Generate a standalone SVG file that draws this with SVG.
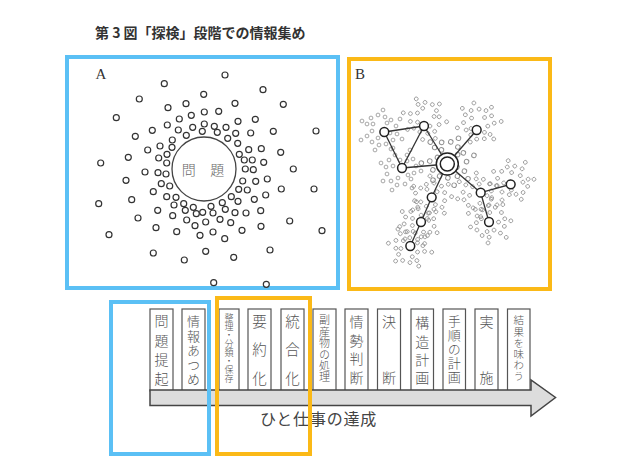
<svg xmlns="http://www.w3.org/2000/svg" xmlns:xlink="http://www.w3.org/1999/xlink" width="627" height="469" viewBox="0 0 627 469">
<style>
.jp{font-family:"Noto Sans CJK JP","Noto Sans",sans-serif}
.vt{font-family:"Noto Sans CJK JP",sans-serif;font-weight:300;fill:#555;writing-mode:vertical-rl}
.ct{font-family:"Noto Sans CJK JP",sans-serif;font-weight:300;fill:#666;text-anchor:middle;dominant-baseline:central}
.sc{fill:#fff;stroke:#333;stroke-width:1.2}
.gc{fill:none;stroke:#909090;stroke-width:0.8}
.nd{fill:#fff;stroke:#222;stroke-width:1.5}
.ed{stroke:#333;stroke-width:1.3;fill:none}
.box{fill:#fff;stroke:#555;stroke-width:1.2}
.blue{fill:none;stroke:#5bc0f5;stroke-width:4}
.orange{fill:none;stroke:#fbb917;stroke-width:4}
</style>
<defs>
<g id="cl">
<circle class="gc" cx="-14" cy="-6" r="1.9"/><circle class="gc" cx="-10" cy="-12" r="1.9"/><circle class="gc" cx="-3" cy="-15" r="1.9"/><circle class="gc" cx="4" cy="-13" r="1.9"/><circle class="gc" cx="10" cy="-10" r="1.9"/><circle class="gc" cx="15" cy="-4" r="1.9"/><circle class="gc" cx="16" cy="4" r="1.9"/><circle class="gc" cx="12" cy="10" r="1.9"/><circle class="gc" cx="5" cy="14" r="1.9"/><circle class="gc" cx="-2" cy="15" r="1.9"/><circle class="gc" cx="-9" cy="12" r="1.9"/><circle class="gc" cx="-14" cy="6" r="1.9"/><circle class="gc" cx="-8" cy="-6" r="1.9"/><circle class="gc" cx="6" cy="-7" r="1.9"/><circle class="gc" cx="9" cy="3" r="1.9"/><circle class="gc" cx="-3" cy="8" r="1.9"/><circle class="gc" cx="-9" cy="1" r="1.9"/><circle class="gc" cx="2" cy="-20" r="1.9"/><circle class="gc" cx="-19" cy="-9" r="1.9"/><circle class="gc" cx="19" cy="-11" r="1.9"/><circle class="gc" cx="-6" cy="20" r="1.9"/><circle class="gc" cx="12" cy="18" r="1.9"/><circle class="gc" cx="21" cy="9" r="1.9"/><circle class="gc" cx="-20" cy="10" r="1.9"/>
</g>
</defs>
<rect width="627" height="469" fill="#fff"/>
<text class="jp" x="95" y="38" font-size="14" font-weight="bold" fill="#333">第 3 図「探検」段階での情報集め</text>

<g id="panelA">
<rect class="blue" x="67" y="57" width="271" height="231"/>
<text x="95.5" y="79" font-family="Liberation Serif,serif" font-size="15" fill="#333">A</text>
<circle cx="204" cy="169" r="32" fill="#fff" stroke="#444" stroke-width="1.3"/>
<text class="ct" x="188.7" y="169" font-size="14">問</text>
<text class="ct" x="217.3" y="169" font-size="14">題</text>
<g>
<circle class="sc" cx="225" cy="75" r="3"/><circle class="sc" cx="164.3" cy="83.7" r="3"/><circle class="sc" cx="263" cy="89.7" r="3"/><circle class="sc" cx="203.7" cy="94.3" r="3"/><circle class="sc" cx="139.3" cy="99" r="3"/><circle class="sc" cx="283.3" cy="104.3" r="3"/><circle class="sc" cx="186" cy="103.7" r="3"/><circle class="sc" cx="235" cy="103.3" r="3"/><circle class="sc" cx="168" cy="107.7" r="3"/><circle class="sc" cx="204.3" cy="112" r="3"/><circle class="sc" cx="218.7" cy="111.3" r="3"/><circle class="sc" cx="116.3" cy="117.7" r="3"/><circle class="sc" cx="191.3" cy="115.3" r="3"/><circle class="sc" cx="179.3" cy="119" r="3"/><circle class="sc" cx="255.3" cy="119.3" r="3"/><circle class="sc" cx="238" cy="121.3" r="3"/><circle class="sc" cx="167.3" cy="125" r="3"/><circle class="sc" cx="204.3" cy="124" r="3"/><circle class="sc" cx="214.3" cy="126.3" r="3"/><circle class="sc" cx="226" cy="127.3" r="3"/><circle class="sc" cx="192.7" cy="127.3" r="3"/><circle class="sc" cx="178.3" cy="130" r="3"/><circle class="sc" cx="152.3" cy="130.3" r="3"/><circle class="sc" cx="202.3" cy="131.3" r="3"/><circle class="sc" cx="217.3" cy="132.3" r="3"/><circle class="sc" cx="235.7" cy="133.3" r="3"/><circle class="sc" cx="250.7" cy="133" r="3"/><circle class="sc" cx="273.3" cy="131.3" r="3"/><circle class="sc" cx="316" cy="131" r="3"/><circle class="sc" cx="135.3" cy="136.3" r="3"/><circle class="sc" cx="186.3" cy="135.3" r="3"/><circle class="sc" cx="227.7" cy="138.3" r="3"/><circle class="sc" cx="172.3" cy="140" r="3"/><circle class="sc" cx="237.7" cy="143.3" r="3"/><circle class="sc" cx="160" cy="146" r="3"/><circle class="sc" cx="172" cy="147.3" r="3"/><circle class="sc" cx="147.7" cy="150" r="3"/><circle class="sc" cx="248.7" cy="149.7" r="3"/><circle class="sc" cx="261.3" cy="148.7" r="3"/><circle class="sc" cx="280.7" cy="152.3" r="3"/><circle class="sc" cx="167" cy="154.3" r="3"/><circle class="sc" cx="239.3" cy="154.3" r="3"/><circle class="sc" cx="158.7" cy="158" r="3"/><circle class="sc" cx="128.3" cy="157.3" r="3"/><circle class="sc" cx="244.3" cy="160" r="3"/><circle class="sc" cx="252.3" cy="160" r="3"/><circle class="sc" cx="263.7" cy="162.3" r="3"/><circle class="sc" cx="100.7" cy="163" r="3"/><circle class="sc" cx="166.7" cy="163" r="3"/><circle class="sc" cx="245.3" cy="169" r="3"/><circle class="sc" cx="253.3" cy="169.7" r="3"/><circle class="sc" cx="293.3" cy="169" r="3"/><circle class="sc" cx="145" cy="172" r="3"/><circle class="sc" cx="158" cy="172.7" r="3"/><circle class="sc" cx="166" cy="174" r="3"/><circle class="sc" cx="126" cy="180.3" r="3"/><circle class="sc" cx="242.7" cy="181" r="3"/><circle class="sc" cx="255.7" cy="181.3" r="3"/><circle class="sc" cx="267.3" cy="179" r="3"/><circle class="sc" cx="161.3" cy="183.7" r="3"/><circle class="sc" cx="169.7" cy="186" r="3"/><circle class="sc" cx="238.7" cy="189.3" r="3"/><circle class="sc" cx="247.3" cy="190" r="3"/><circle class="sc" cx="281.3" cy="189" r="3"/><circle class="sc" cx="314" cy="189" r="3"/><circle class="sc" cx="153.3" cy="191.7" r="3"/><circle class="sc" cx="166.7" cy="196.7" r="3"/><circle class="sc" cx="176" cy="197.3" r="3"/><circle class="sc" cx="231.3" cy="196.7" r="3"/><circle class="sc" cx="254.3" cy="199.3" r="3"/><circle class="sc" cx="265.7" cy="195" r="3"/><circle class="sc" cx="131.7" cy="199.7" r="3"/><circle class="sc" cx="222.3" cy="202.7" r="3"/><circle class="sc" cx="238" cy="201.3" r="3"/><circle class="sc" cx="98.7" cy="203.7" r="3"/><circle class="sc" cx="174" cy="205" r="3"/><circle class="sc" cx="183.7" cy="203.7" r="3"/><circle class="sc" cx="193.3" cy="207.3" r="3"/><circle class="sc" cx="211" cy="206.3" r="3"/><circle class="sc" cx="225.3" cy="209.3" r="3"/><circle class="sc" cx="185.3" cy="210.3" r="3"/><circle class="sc" cx="157.7" cy="210.3" r="3"/><circle class="sc" cx="196.3" cy="213.7" r="3"/><circle class="sc" cx="202.7" cy="212.3" r="3"/><circle class="sc" cx="213" cy="213" r="3"/><circle class="sc" cx="235" cy="212.7" r="3"/><circle class="sc" cx="246" cy="213" r="3"/><circle class="sc" cx="260.7" cy="210.7" r="3"/><circle class="sc" cx="172.7" cy="215.7" r="3"/><circle class="sc" cx="138" cy="218" r="3"/><circle class="sc" cx="186.7" cy="220" r="3"/><circle class="sc" cx="205.7" cy="222" r="3"/><circle class="sc" cx="220" cy="219.3" r="3"/><circle class="sc" cx="230.7" cy="222.7" r="3"/><circle class="sc" cx="289.7" cy="221" r="3"/><circle class="sc" cx="156" cy="227.7" r="3"/><circle class="sc" cx="195" cy="225.7" r="3"/><circle class="sc" cx="261" cy="226.3" r="3"/><circle class="sc" cx="176.7" cy="231.7" r="3"/><circle class="sc" cx="213" cy="232" r="3"/><circle class="sc" cx="242" cy="230.3" r="3"/><circle class="sc" cx="322" cy="230.7" r="3"/><circle class="sc" cx="109" cy="234.7" r="3"/><circle class="sc" cx="200" cy="235.3" r="3"/><circle class="sc" cx="224.7" cy="238.7" r="3"/><circle class="sc" cx="270" cy="250" r="3"/><circle class="sc" cx="153.3" cy="253" r="3"/><circle class="sc" cx="205.7" cy="251.3" r="3"/><circle class="sc" cx="233.7" cy="257.3" r="3"/><circle class="sc" cx="184.3" cy="260" r="3"/><circle class="sc" cx="213.7" cy="282.7" r="3"/><circle class="sc" cx="266.3" cy="284.3" r="3"/>
</g>
</g>

<g id="panelB">
<rect class="orange" x="349" y="59" width="201" height="230"/>
<text x="355" y="79" font-family="Liberation Serif,serif" font-size="15" fill="#333">B</text>
<g id="clusters">
<use xlink:href="#cl" transform="translate(381,130)"/>
<use xlink:href="#cl" transform="translate(425,118) rotate(40)"/>
<use xlink:href="#cl" transform="translate(401,169) rotate(90)"/>
<use xlink:href="#cl" transform="translate(448,160) rotate(20) scale(1.2)"/>
<use xlink:href="#cl" transform="translate(479,124) rotate(200)"/>
<use xlink:href="#cl" transform="translate(478,194) rotate(60)"/>
<use xlink:href="#cl" transform="translate(513,181) rotate(150)"/>
<use xlink:href="#cl" transform="translate(490,222) rotate(250)"/>
<use xlink:href="#cl" transform="translate(430,198) rotate(300)"/>
<use xlink:href="#cl" transform="translate(419,224) rotate(110)"/>
<use xlink:href="#cl" transform="translate(410,247) rotate(220)"/>
</g>
<g id="connectors">
<line class="ed" x1="384.3" y1="132" x2="424" y2="126"/>
<line class="ed" x1="384.3" y1="132" x2="402" y2="168"/>
<line class="ed" x1="424" y1="126" x2="402" y2="168"/>
<line class="ed" x1="424" y1="126" x2="447.3" y2="164"/>
<line class="ed" x1="402" y1="168" x2="447.3" y2="164"/>
<line class="ed" x1="476.7" y1="130" x2="447.3" y2="164"/>
<line class="ed" x1="447.3" y1="164" x2="480.7" y2="192.7"/>
<line class="ed" x1="480.7" y1="192.7" x2="510.7" y2="184.3"/>
<line class="ed" x1="480.7" y1="192.7" x2="489" y2="222"/>
<line class="ed" x1="447.3" y1="164" x2="431.7" y2="197.3"/>
<line class="ed" x1="431.7" y1="197.3" x2="421" y2="222"/>
<line class="ed" x1="421" y1="222" x2="410.3" y2="246"/>
</g>
<g id="center"><circle class="nd" cx="447.3" cy="164" r="11"/><circle class="nd" cx="447.3" cy="164" r="7"/></g>
<g id="n1"><circle class="nd" cx="384.3" cy="132" r="4.4"/></g>
<g id="n2"><circle class="nd" cx="424" cy="126" r="4.4"/></g>
<g id="n3"><circle class="nd" cx="402" cy="168" r="4.4"/></g>
<g id="n4"><circle class="nd" cx="476.7" cy="130" r="4.4"/></g>
<g id="n5"><circle class="nd" cx="480.7" cy="192.7" r="4.4"/></g>
<g id="n6"><circle class="nd" cx="510.7" cy="184.3" r="4.4"/></g>
<g id="n7"><circle class="nd" cx="489" cy="222" r="4.4"/></g>
<g id="n8"><circle class="nd" cx="431.7" cy="197.3" r="4.4"/></g>
<g id="n9"><circle class="nd" cx="421" cy="222" r="4.4"/></g>
<g id="n10"><circle class="nd" cx="410.3" cy="246" r="4.4"/></g>
</g>

<g id="timeline">
<g id="b1"><rect class="box" x="150" y="309" width="23" height="82"/><text class="vt" x="161.5" y="314" font-size="14" letter-spacing="5.2">問題提起</text></g>
<g id="b2"><rect class="box" x="182" y="309" width="23" height="82"/><text class="vt" x="193.5" y="315" font-size="13" letter-spacing="1.4">情報あつめ</text></g>
<g id="b3"><rect class="box" x="219" y="309" width="20" height="82"/><text class="vt" x="229" y="313" font-size="9" letter-spacing="-0.3">整理・分類・保存</text></g>
<g id="b4"><rect class="box" x="248" y="309" width="23" height="82"/><text class="vt" x="259.5" y="314.2" font-size="14.5" letter-spacing="14">要約化</text></g>
<g id="b5"><rect class="box" x="281" y="309" width="23" height="82"/><text class="vt" x="292.5" y="314.2" font-size="14.5" letter-spacing="14">統合化</text></g>
<g id="b6"><rect class="box" x="313" y="309" width="23" height="82"/><text class="vt" x="324.5" y="314.5" font-size="11" letter-spacing="0.46">副産物の処理</text></g>
<g id="b7"><rect class="box" x="345" y="309" width="23" height="82"/><text class="vt" x="356.5" y="314.5" font-size="14" letter-spacing="4.7">情勢判断</text></g>
<g id="b8"><rect class="box" x="377.5" y="309" width="23" height="82"/><text class="vt" x="389" y="314.5" font-size="14" letter-spacing="42.5">決断</text></g>
<g id="b9"><rect class="box" x="411" y="309" width="22.5" height="82"/><text class="vt" x="422.2" y="316" font-size="14" letter-spacing="4.2">構造計画</text></g>
<g id="b10"><rect class="box" x="443" y="309" width="22.5" height="82"/><text class="vt" x="454.2" y="314.2" font-size="13" letter-spacing="1.1">手順の計画</text></g>
<g id="b11"><rect class="box" x="475" y="309" width="23" height="82"/><text class="vt" x="486.5" y="314.5" font-size="14" letter-spacing="42.5">実施</text></g>
<g id="b12"><rect class="box" x="507.5" y="309" width="22.5" height="82"/><text class="vt" x="518.7" y="315.2" font-size="10.5" letter-spacing="0.7">結果を味わう</text></g>
<g id="arrow"><path d="M150,390 H531 V380 L555.5,397.5 L531,416 V405.5 H150 Z" fill="#ddd" stroke="#444" stroke-width="1.5" stroke-linejoin="miter"/></g>
<text class="jp" x="260" y="425" font-size="16" letter-spacing="0.8" fill="#444">ひと仕事の達成</text>
<rect class="blue" x="111" y="302" width="98" height="152" stroke-width="3.5"/>
<rect class="orange" x="217" y="298" width="93" height="156" stroke-width="3.5"/>
</g>
</svg>
